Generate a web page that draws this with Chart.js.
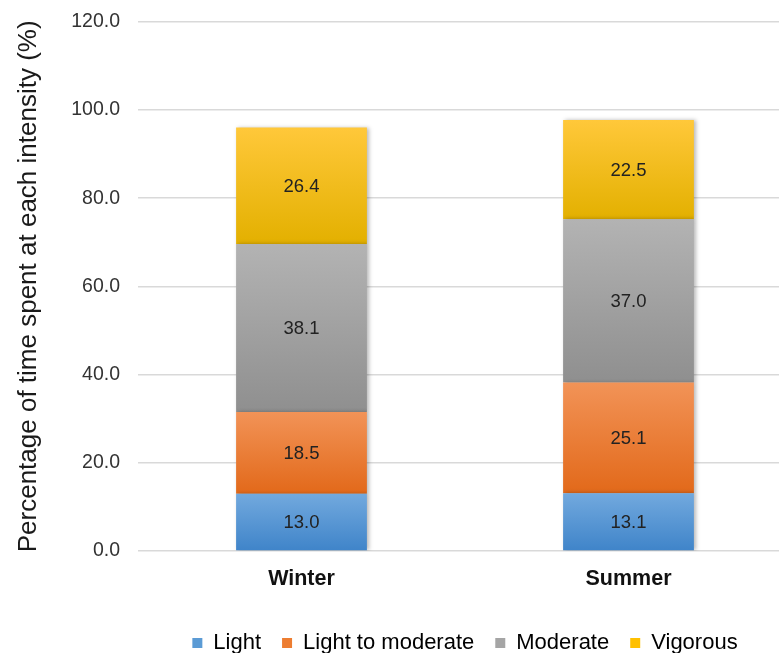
<!DOCTYPE html>
<html>
<head>
<meta charset="utf-8">
<script src="https://cdn.jsdelivr.net/npm/chart.js@4/dist/chart.umd.min.js"></script>
<style>
  html, body { margin: 0; padding: 0; background: #fff; overflow: hidden; }
  #wrap { width: 792px; height: 661px; margin-top: -8px; }
</style>
</head>
<body>
<div id="wrap"><canvas id="c"></canvas></div>
<script>
// Seasons on the x axis
const seasons = ['Winter', 'Summer'];

// Percentage of time spent at each intensity, per season
const lightValues = [13.0, 13.1];
const lightToModerateValues = [18.5, 25.1];
const moderateValues = [38.1, 37.0];
const vigorousValues = [26.4, 22.5];

const seriesNames = ['Light', 'Light to moderate', 'Moderate', 'Vigorous'];
const seriesValues = [lightValues, lightToModerateValues, moderateValues, vigorousValues];

const FONT = '"Liberation Sans", Arial, sans-serif';

// gradient stops (top, bottom) and legend swatch colour per series
const palette = [
  { top: '#72a9de', bottom: '#3f84c9', flat: '#5b9bd5' },
  { top: '#f29357', bottom: '#e2691a', flat: '#ed7d31' },
  { top: '#b3b3b3', bottom: '#8f8f8f', flat: '#a5a5a5' },
  { top: '#ffc83a', bottom: '#e3b000', flat: '#ffc000' }
];

// vertical gradient spanning each stacked segment
function segmentGradient(ctx, dsIndex) {
  const chart = ctx.chart;
  const y = chart.scales.y;
  const i = ctx.dataIndex;
  if (!y || i === undefined || !chart.chartArea) return palette[dsIndex].flat;
  let start = 0;
  for (let k = 0; k < dsIndex; k++) start += seriesValues[k][i];
  const end = start + seriesValues[dsIndex][i];
  const yTop = y.getPixelForValue(end);
  const yBot = y.getPixelForValue(start);
  if (!isFinite(yTop) || !isFinite(yBot)) return palette[dsIndex].flat;
  const g = chart.ctx.createLinearGradient(0, yTop, 0, yBot);
  g.addColorStop(0, palette[dsIndex].top);
  g.addColorStop(1, palette[dsIndex].bottom);
  return g;
}

const datasets = seriesNames.map((name, d) => ({
  label: name,
  data: seriesValues[d],
  backgroundColor: (ctx) => segmentGradient(ctx, d),
  borderWidth: 0,
  categoryPercentage: 1.0,
  barPercentage: 0.4
}));

// soft shadow on the right side of the bars
const barShadow = {
  id: 'barShadow',
  beforeDatasetsDraw(chart) {
    const c = chart.ctx;
    c.save();
    c.shadowColor = 'rgba(0,0,0,0.28)';
    c.shadowBlur = 4;
    c.shadowOffsetX = 2;
    c.shadowOffsetY = 0;
  },
  afterDatasetsDraw(chart) {
    chart.ctx.restore();
  }
};

// values written in the middle of each segment
const segmentLabels = {
  id: 'segmentLabels',
  afterDatasetsDraw(chart) {
    const c = chart.ctx;
    c.save();
    c.shadowColor = 'transparent';
    c.font = '18.5px ' + FONT;
    c.fillStyle = '#222';
    c.textAlign = 'center';
    c.textBaseline = 'middle';
    chart.data.datasets.forEach((ds, d) => {
      chart.getDatasetMeta(d).data.forEach((bar, i) => {
        const mid = (bar.y + bar.base) / 2;
        c.fillText(ds.data[i].toFixed(1), bar.x, mid + 1);
      });
    });
    c.restore();
  }
};

new Chart(document.getElementById('c'), {
  type: 'bar',
  data: { labels: seasons, datasets },
  options: {
    responsive: true,
    maintainAspectRatio: false,
    animation: false,
    layout: { padding: { top: 0, left: 13, right: 0, bottom: -11 } },
    plugins: {
      tooltip: { enabled: false },
      legend: {
        position: 'bottom',
        fullSize: false,
        labels: {
          boxWidth: 10,
          boxHeight: 10,
          padding: 21,
          color: '#222',
          font: { family: FONT, size: 22 },
          generateLabels: () => seriesNames.map((n, d) => ({
            text: n,
            fillStyle: palette[d].flat,
            strokeStyle: palette[d].flat,
            lineWidth: 0,
            datasetIndex: d
          }))
        }
      }
    },
    scales: {
      x: {
        stacked: true,
        grid: { display: false, drawTicks: false },
        border: { display: false },
        afterFit: (scale) => { scale.height = 60; },
        ticks: {
          color: '#111',
          padding: 15,
          font: { family: FONT, size: 21.5, weight: 'bold' }
        }
      },
      y: {
        stacked: true,
        min: 0,
        max: 120,
        grid: { color: '#d9d9d9', lineWidth: 1.5, drawTicks: false },
        border: { display: false },
        ticks: {
          stepSize: 20,
          padding: 18,
          color: '#333',
          font: { family: FONT, size: 19.5 },
          callback: (v) => Number(v).toFixed(1)
        },
        title: {
          display: true,
          text: 'Percentage of time spent at each intensity (%)',
          color: '#1a1a1a',
          padding: { top: 0, bottom: 9 },
          font: { family: FONT, size: 26 }
        }
      }
    }
  },
  plugins: [barShadow, segmentLabels]
});
</script>
</body>
</html>
